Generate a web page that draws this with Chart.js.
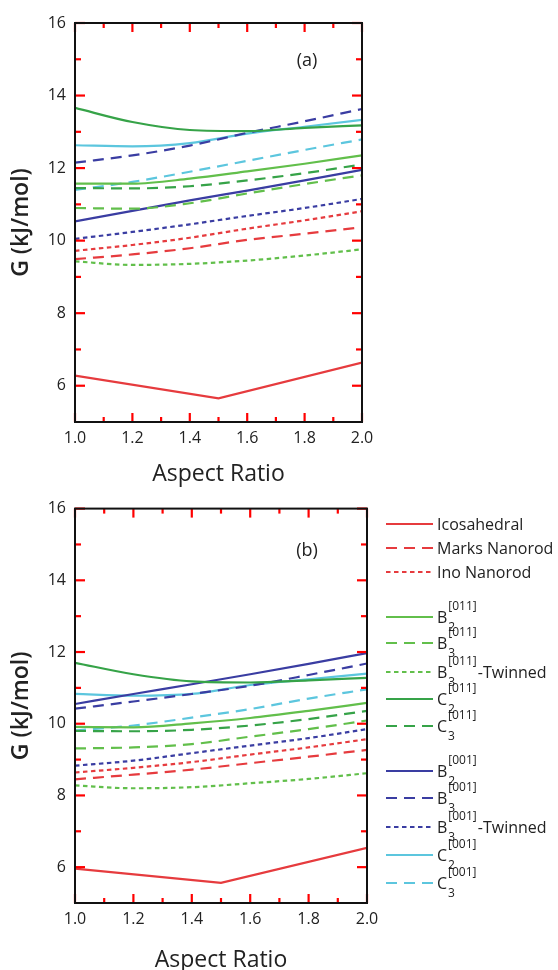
<!DOCTYPE html>
<html lang="en">
<head>
<meta charset="UTF-8">
<title>G vs aspect ratio</title>
<script src="https://cdn.jsdelivr.net/npm/chart.js"></script>
<style>
  body { margin: 0; background: #fff; }
  #wrap { position: relative; width: 558px; height: 970px; }
  canvas { position: absolute; left: 0; }
  #chartA { top: 0; }
  #chartB { top: 490px; }
</style>
</head>
<body>
<div id="wrap">
  <canvas id="chartA" width="558" height="490"></canvas>
  <canvas id="chartB" width="558" height="480"></canvas>
</div>
<script>
// values
const aspect = [1.0, 1.2, 1.4, 1.6, 1.8, 2.0];
const aspectIco = [1.0, 1.5, 2.0];
const xTicks = [1.0, 1.2, 1.4, 1.6, 1.8, 2.0];
const xMinor = [1.1, 1.3, 1.5, 1.7, 1.9];
const yTicks = [6, 8, 10, 12, 14, 16];
const yMinor = [7, 9, 11, 13, 15];

const seriesNames = ['Icosahedral', 'Marks Nanorod', 'Ino Nanorod',
  'B2[011]', 'B3[011]', 'B3[011]-Twinned', 'C2[011]', 'C3[011]',
  'B2[001]', 'B3[001]', 'B3[001]-Twinned', 'C2[001]', 'C3[001]'];
// base, subscript, superscript, tail
const legendParts = [
  ['Icosahedral', '', '', ''], ['Marks Nanorod', '', '', ''], ['Ino Nanorod', '', '', ''],
  ['B', '2', '[011]', ''], ['B', '3', '[011]', ''], ['B', '3', '[011]', '-Twinned'],
  ['C', '2', '[011]', ''], ['C', '3', '[011]', ''],
  ['B', '2', '[001]', ''], ['B', '3', '[001]', ''], ['B', '3', '[001]', '-Twinned'],
  ['C', '2', '[001]', ''], ['C', '3', '[001]', '']
];

// panel (a)
const icoA   = [6.28, 5.65, 6.64];
const marksA = [9.49, 9.62, 9.79, 10.02, 10.19, 10.37];
const inoA   = [9.72, 9.88, 10.08, 10.33, 10.56, 10.81];
const b2_011A = [11.57, 11.57, 11.71, 11.91, 12.12, 12.35];
const b3_011A = [10.90, 10.88, 11.03, 11.30, 11.56, 11.80];
const b3t_011A = [9.43, 9.33, 9.36, 9.45, 9.59, 9.76];
const c2_011A = [13.66, 13.27, 13.05, 13.02, 13.11, 13.18];
const c3_011A = [11.45, 11.44, 11.50, 11.66, 11.86, 12.10];
const b2_001A = [10.53, 10.82, 11.11, 11.38, 11.66, 11.95];
const b3_001A = [12.15, 12.35, 12.62, 12.97, 13.29, 13.63];
const b3t_001A = [10.05, 10.24, 10.45, 10.68, 10.90, 11.15];
const c2_001A = [12.63, 12.60, 12.69, 12.95, 13.14, 13.33];
const c3_001A = [11.40, 11.62, 11.90, 12.20, 12.50, 12.79];

// panel (b)
const icoB   = [5.96, 5.56, 6.54];
const marksB = [8.45, 8.58, 8.72, 8.90, 9.08, 9.27];
const inoB   = [8.64, 8.77, 8.93, 9.14, 9.34, 9.57];
const b2_011B = [9.91, 9.90, 10.01, 10.16, 10.36, 10.58];
const b3_011B = [9.31, 9.34, 9.43, 9.64, 9.85, 10.09];
const b3t_011B = [8.28, 8.20, 8.23, 8.34, 8.46, 8.62];
const c2_011B = [11.70, 11.38, 11.18, 11.15, 11.21, 11.28];
const c3_011B = [9.80, 9.79, 9.83, 9.95, 10.13, 10.36];
const b2_001B = [10.55, 10.83, 11.10, 11.38, 11.67, 11.97];
const b3_001B = [10.42, 10.62, 10.83, 11.06, 11.36, 11.68];
const b3t_001B = [8.83, 8.97, 9.18, 9.39, 9.60, 9.85];
const c2_001B = [10.83, 10.78, 10.83, 11.08, 11.24, 11.40];
const c3_001B = [9.81, 9.95, 10.17, 10.41, 10.70, 10.96];

const panelA = [icoA, marksA, inoA, b2_011A, b3_011A, b3t_011A, c2_011A, c3_011A,
  b2_001A, b3_001A, b3t_001A, c2_001A, c3_001A];
const panelB = [icoB, marksB, inoB, b2_011B, b3_011B, b3t_011B, c2_011B, c3_011B,
  b2_001B, b3_001B, b3t_001B, c2_001B, c3_001B];

// styles
const RED = '#e63b3e', BLUE = '#3a3da2', LGREEN = '#62bf4b', DGREEN = '#36a348', CYAN = '#5cc6de';
const SOLID = [], DASH = [11, 7], DOT = [4.5, 3.5];
const seriesStyle = [
  [RED, SOLID], [RED, DASH], [RED, DOT],
  [LGREEN, SOLID], [LGREEN, DASH], [LGREEN, DOT], [DGREEN, SOLID], [DGREEN, DASH],
  [BLUE, SOLID], [BLUE, DASH], [BLUE, DOT], [CYAN, SOLID], [CYAN, DASH]
];

Chart.defaults.font.family = "'Open Sans', sans-serif";
Chart.defaults.color = '#222';

function makeDatasets(values) {
  return values.map((vals, i) => {
    const xs = i === 0 ? aspectIco : aspect;
    return {
      label: seriesNames[i],
      data: vals.map((v, j) => ({x: xs[j], y: v})),
      borderColor: seriesStyle[i][0],
      borderDash: seriesStyle[i][1],
      borderWidth: 2.2,
      pointRadius: 0,
      fill: false,
      tension: i === 0 ? 0 : 0.4,
      cubicInterpolationMode: i === 0 ? 'default' : 'monotone'
    };
  });
}

// box round the plot with inward major/minor ticks (red for now, to check they draw)
const frameTicks = {
  id: 'frameTicks',
  afterDraw(chart) {
    const ctx = chart.ctx;
    const a = chart.chartArea;
    const xs = chart.scales.x, ys = chart.scales.y;
    ctx.save();
    ctx.setLineDash([]);
    ctx.strokeStyle = 'red';
    ctx.lineWidth = 2.2;
    const seg = (x1, y1, x2, y2) => {
      ctx.beginPath(); ctx.moveTo(x1, y1); ctx.lineTo(x2, y2); ctx.stroke();
    };
    const tickX = (v, len) => {
      const p = xs.getPixelForValue(v);
      seg(p, a.bottom, p, a.bottom - len);
      seg(p, a.top, p, a.top + len);
    };
    const tickY = (v, len) => {
      const p = ys.getPixelForValue(v);
      seg(a.left, p, a.left + len, p);
      seg(a.right, p, a.right - len, p);
    };
    xTicks.forEach(v => tickX(v, 9));
    xMinor.forEach(v => tickX(v, 5));
    yTicks.forEach(v => tickY(v, 10));
    yMinor.forEach(v => tickY(v, 6));
    ctx.strokeStyle = '#111';
    ctx.lineWidth = 2;
    ctx.strokeRect(a.left, a.top, a.right - a.left, a.bottom - a.top);
    ctx.restore();
  }
};

const panelLabel = {
  id: 'panelLabel',
  afterDraw(chart, args, opts) {
    const {ctx, chartArea: a} = chart;
    ctx.save();
    ctx.font = "18px 'Open Sans'";
    ctx.fillStyle = '#222';
    ctx.textAlign = 'center';
    ctx.textBaseline = 'middle';
    ctx.fillText(opts.text, a.left + opts.dx, a.top + opts.dy);
    ctx.restore();
  }
};

const sideLegend = {
  id: 'sideLegend',
  afterDraw(chart, args, opts) {
    if (!opts.rows) return;
    const ctx = chart.ctx;
    ctx.save();
    chart.data.datasets.forEach((ds, i) => {
      const rowY = opts.rows[i];
      ctx.strokeStyle = ds.borderColor;
      ctx.lineWidth = ds.borderWidth;
      ctx.setLineDash(ds.borderDash);
      ctx.beginPath();
      ctx.moveTo(opts.x0, rowY);
      ctx.lineTo(opts.x1, rowY);
      ctx.stroke();
      ctx.setLineDash([]);
      const [base, sub, sup, tail] = legendParts[i];
      const textY = rowY + 1;
      ctx.fillStyle = '#222';
      ctx.textBaseline = 'middle';
      ctx.textAlign = 'left';
      ctx.font = "16px 'Open Sans'";
      let x = opts.textX;
      ctx.fillText(base, x, textY);
      x += ctx.measureText(base).width + 1;
      if (sub || sup) {
        ctx.font = "12px 'Open Sans'";
        ctx.fillText(sub, x, textY + 10);
        ctx.fillText(sup, x, textY - 11);
        x += Math.max(ctx.measureText(sub).width, ctx.measureText(sup).width);
        ctx.font = "16px 'Open Sans'";
      }
      if (tail) ctx.fillText(tail, x + 1, textY);
    });
    ctx.restore();
  }
};

function makeChart(id, values, cfg) {
  return new Chart(document.getElementById(id), {
    type: 'line',
    data: {datasets: makeDatasets(values)},
    plugins: [panelLabel, sideLegend, frameTicks],
    options: {
      responsive: false,
      animation: false,
      layout: {padding: {left: 0, top: cfg.top, right: cfg.right, bottom: 0}},
      plugins: {
        legend: {display: false},
        tooltip: {enabled: false},
        panelLabel: {text: cfg.label, dx: 232, dy: cfg.labelDy},
        sideLegend: cfg.legend || {}
      },
      scales: {
        x: {
          type: 'linear', min: 1, max: 2,
          grid: {display: false, drawTicks: false},
          border: {display: false},
          afterBuildTicks: s => { s.ticks = xTicks.map(v => ({value: v})); },
          ticks: {padding: 7, font: {size: 16}, maxRotation: 0, autoSkip: false,
                  callback: v => v.toFixed(1)},
          title: {display: true, text: 'Aspect Ratio', font: {size: 23, lineHeight: 0.8},
                  padding: {top: 0, bottom: cfg.titlePad}},
          afterFit: s => { s.height = cfg.xHeight; }
        },
        y: {
          type: 'linear', min: 5, max: 16,
          grid: {display: false, drawTicks: false},
          border: {display: false},
          afterBuildTicks: s => { s.ticks = yTicks.map(v => ({value: v})); },
          ticks: {padding: 9, font: {size: 16}},
          title: {display: true, text: 'G (kJ/mol)', font: {size: 23, weight: '600', lineHeight: 1},
                  padding: {top: 10, bottom: 0}},
          afterFit: s => { s.width = 75; }
        }
      }
    }
  });
}

makeChart('chartA', panelA, {top: 23, right: 196, xHeight: 68, titlePad: 6.8, label: '(a)', labelDy: 38});
makeChart('chartB', panelB, {top: 17, right: 191, xHeight: 67, titlePad: 0.8, label: '(b)', labelDy: 42,
  legend: {x0: 386, x1: 433, textX: 437,
           rows: [34, 58, 82, 127, 153, 182, 209, 236, 281, 308, 337, 365, 393]}});
</script>
</body>
</html>
